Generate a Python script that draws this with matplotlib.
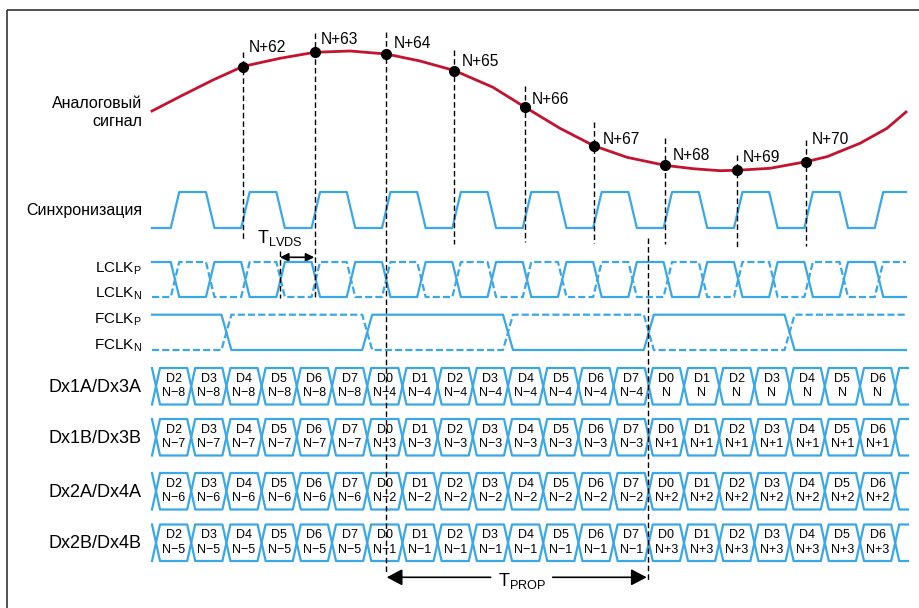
import numpy as np
import matplotlib.pyplot as plt
from matplotlib.patches import FancyArrowPatch

plt.rcParams['font.family'] = ['Liberation Sans', 'DejaVu Sans']
plt.rcParams['mathtext.fontset'] = 'custom'
plt.rcParams['mathtext.rm'] = 'Liberation Sans'
plt.rcParams['mathtext.it'] = 'Liberation Sans:italic'

BLUE = '#3aa7e6'
RED = '#c4122f'

# analog signal (pixel units, y downwards)
curve_x = [152, 183, 213, 242.7, 280, 314.7, 350, 386.3, 420, 454.3, 493, 524.7,
           560, 593.7, 627, 665, 693, 720, 736.7, 770, 806, 827, 860, 887, 906]
curve_y = [111, 95, 80, 66.5, 58.3, 52.3, 51, 54, 61, 70.5, 87.3, 107,
           128.3, 145.7, 157.3, 165.3, 168.7, 170.7, 170.3, 168.3, 161.7, 156.7, 143.3, 128.3, 112]

# sample points
sample_labels = ["N+62", "N+63", "N+64", "N+65", "N+66", "N+67", "N+68", "N+69", "N+70"]
sample_x = [242.7, 314.7, 386.3, 454.3, 524.7, 593.7, 665, 736.7, 806]
sample_y = [66.5, 52.3, 54, 70.5, 107, 145.7, 165.3, 170.3, 161.7]

# data lanes
row_names = ["Dx1A/Dx3A", "Dx1B/Dx3B", "Dx2A/Dx4A", "Dx2B/Dx4B"]
row_frames = [["N\u22128", "N\u22124", "N"],
              ["N\u22127", "N\u22123", "N+1"],
              ["N\u22126", "N\u22122", "N+2"],
              ["N\u22125", "N\u22121", "N+3"]]
first_bit = 2
n_cells = 21

# layout (pixels)
label_pos = [(249, 48), (321, 39), (394, 43), (462, 61), (532, 99),
             (603, 139), (673, 156), (743, 157), (812, 139)]
vline_top = [52, 33, 32, 50, 86, 122, 138, 155, 140]
vline_bot = [241, 297, 572, 244, 242, 243, 244, 247, 246]
row_top = [368, 419, 473, 524.5]
row_h = 36.5
x_start, x_end = 152, 906
bit_t = 35.2
edge0 = 175          # first clock edge centre
cross0 = 156         # first data crossing centre
ew = 8.5

fig = plt.figure(figsize=(9.19, 6.08), dpi=100)
ax = fig.add_axes([0, 0, 1, 1])
ax.set_xlim(0, 919)
ax.set_ylim(608, 0)
ax.axis('off')

# frame
ax.plot([7, 7], [608, 9.5], color='#333333', lw=1.2, solid_capstyle='butt')
ax.plot([7, 919], [9.5, 9.5], color='#333333', lw=1.2, solid_capstyle='butt')

dash = (0, (4, 2.2))
bdash = (0, (3.2, 1.4))


def clock(edges, hi, lo, start_high, width):
    xs, level = [x_start], (hi if start_high else lo)
    ys = [level]
    for e in edges:
        new = lo if level == hi else hi
        xs += [e - width / 2, e + width / 2]
        ys += [level, new]
        level = new
    xs.append(x_end)
    ys.append(level)
    return xs, ys


# analog signal
ax.plot(curve_x, curve_y, color=RED, lw=2, solid_joinstyle='round', zorder=3)
ax.plot(sample_x, sample_y, 'o', color='black', ms=7, zorder=5)
for lab, (lx, ly) in zip(sample_labels, label_pos):
    ax.text(lx, ly, lab, fontsize=11.2, ha='left', va='center')
for x, y0, y1 in zip(sample_x, vline_top, vline_bot):
    ax.plot([x, x], [y0, y1], color='black', lw=1, ls=dash, zorder=4)

# sync / LCLK
edges = [edge0 + bit_t * k for k in range(21)]
xs, ys = clock(edges, 192, 228, False, ew)
ax.plot(xs, ys, color=BLUE, lw=1.6)
xs, ys = clock(edges, 262, 297, True, ew)
ax.plot(xs, ys, color=BLUE, lw=1.6)
xs, ys = clock(edges, 262, 297, False, ew)
ax.plot(xs, ys, color=BLUE, lw=1.6, ls=bdash)

# FCLK
fedges = [cross0 + bit_t * (2 + 4 * k) for k in range(5)]
xs, ys = clock(fedges, 314.7, 350, True, 10)
ax.plot(xs, ys, color=BLUE, lw=1.6)
xs, ys = clock(fedges, 314.7, 350, False, 10)
ax.plot(xs, ys, color=BLUE, lw=1.6, ls=bdash)

# data lanes
cross = [cross0 + bit_t * k for k in range(n_cells + 1)]
cw = 8
for r, (name, frames) in enumerate(zip(row_names, row_frames)):
    top, bot = row_top[r], row_top[r] + row_h
    mid = (top + bot) / 2
    for start in (top, bot):
        lx, ly = [cross[0] - cw / 2], [start]
        lvl = start
        for c in cross:
            other = bot if lvl == top else top
            lx += [c - cw / 2, c + cw / 2]
            ly += [lvl, other]
            lvl = other
        lx.append(x_end + 2)
        ly.append(lvl)
        ax.plot(lx, ly, color=BLUE, lw=1.6)
    for k in range(n_cells):
        cx = (cross[k] + cross[k + 1]) / 2
        b = first_bit + k
        ax.text(cx, mid - 7.5, "D%d" % (b % 8), fontsize=9, ha='center', va='center')
        ax.text(cx, mid + 7, frames[b // 8], fontsize=9, ha='center', va='center')
    ax.text(142, mid + 1, name, fontsize=13, ha='right', va='center')

# left labels
ax.text(142.5, 103, "Аналоговый", fontsize=11.5, ha='right', va='center')
ax.text(142.5, 121, "сигнал", fontsize=11.5, ha='right', va='center')
ax.text(142.5, 210, "Синхронизация", fontsize=11.5, ha='right', va='center')
ax.text(142, 272.3, r"$\mathregular{LCLK_P}$", fontsize=11, ha='right', va='baseline')
ax.text(142, 297.3, r"$\mathregular{LCLK_N}$", fontsize=11, ha='right', va='baseline')
ax.text(142, 323.3, r"$\mathregular{FCLK_P}$", fontsize=11, ha='right', va='baseline')
ax.text(142, 350, r"$\mathregular{FCLK_N}$", fontsize=11, ha='right', va='baseline')

# T_LVDS
ax.plot([280, 280], [251, 298], color='black', lw=1, ls=dash)
ax.add_patch(FancyArrowPatch((280, 257.3), (314.3, 257.3),
                             arrowstyle='<|-|>,head_length=0.5,head_width=0.25',
                             mutation_scale=10, color='black', lw=1.2,
                             shrinkA=0, shrinkB=0))
ax.text(256.7, 243.5, r"$\mathregular{T_{LVDS}}$", fontsize=13, ha='left', va='baseline')

# T_PROP
ax.plot([648, 648], [237.5, 580], color='black', lw=1, ls=dash, zorder=4)
for a, b in (((490.7, 577.3), (386.7, 577.3)), ((552.7, 577.3), (646.7, 577.3))):
    ax.add_patch(FancyArrowPatch(a, b, arrowstyle='-|>,head_length=0.95,head_width=0.5',
                                 mutation_scale=10, color='black', lw=1.2,
                                 shrinkA=0, shrinkB=0))
ax.text(498.3, 586, r"$\mathregular{T_{PROP}}$", fontsize=13, ha='left', va='baseline')

fig.savefig("out.png", dpi=100)
